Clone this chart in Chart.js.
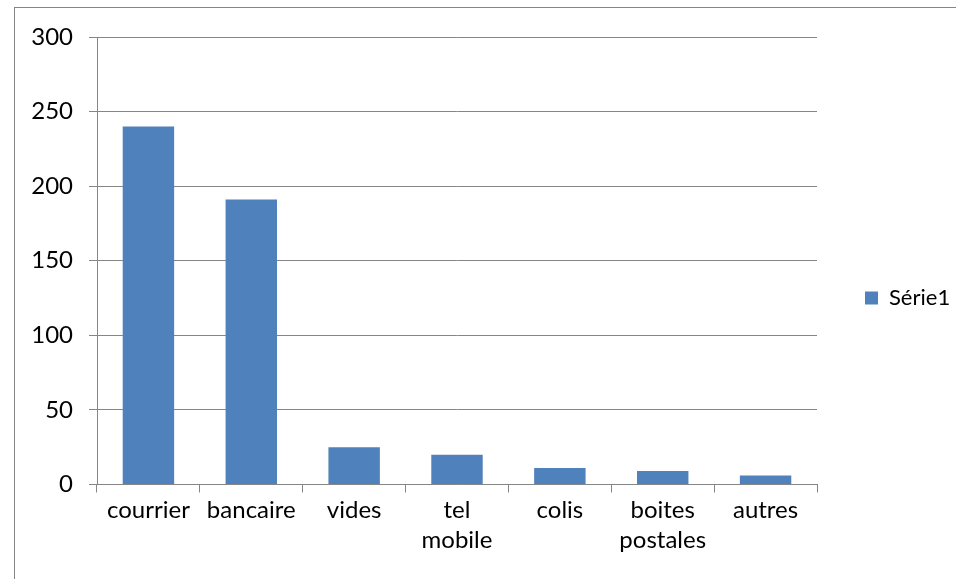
<!DOCTYPE html>
<html>
<head>
<meta charset="utf-8">
<script src="https://cdn.jsdelivr.net/npm/chart.js@4/dist/chart.umd.min.js"></script>
<style>
  html, body { margin: 0; padding: 0; background: #fff; }
  #wrap { width: 956px; height: 579px; }
</style>
</head>
<body>
<div id="wrap"><canvas id="myChart" width="956" height="579"></canvas></div>
<script>
// data
const categories = ['courrier', 'bancaire', 'vides', ['tel', 'mobile'], 'colis', ['boites', 'postales'], 'autres'];
const serie1 = [240, 191, 25, 20, 11, 9, 6];
const yTicks = [0, 50, 100, 150, 200, 250, 300];

const gray = '#868686';
const font = { family: 'Lato, "Open Sans", sans-serif', size: 24, lineHeight: 1.25 };

// outer frame round the whole chart + fixed legend width
const frame = {
  id: 'frame',
  afterInit(chart) {
    const lg = chart.legend;
    if (lg && !lg._wrapped) {
      const f = lg.fit;
      lg.fit = function () { f.call(this); this.width = 139; };
      lg._wrapped = true;
    }
  },
  beforeDraw(chart) {
    const c = chart.ctx;
    c.save();
    c.fillStyle = '#fff';
    c.fillRect(0, 0, chart.width, chart.height);
    c.strokeStyle = gray;
    c.lineWidth = 1;
    c.strokeRect(14.5, 7.5, 960, 600);
    c.restore();
  }
};

const config = {
  type: 'bar',
  data: {
    labels: categories,
    datasets: [{
      label: 'Série1',
      data: serie1,
      backgroundColor: '#4F81BD',
      borderWidth: 0,
      categoryPercentage: 1,
      barPercentage: 0.5
    }]
  },
  options: {
    responsive: false,
    animation: false,
    layout: { padding: { left: 20, top: 37, right: 0, bottom: 20 } },
    plugins: {
      tooltip: { enabled: false },
      legend: {
        position: 'right',
        labels: {
          color: '#000',
          font: { family: font.family, size: 22 },
          boxWidth: 13, boxHeight: 13, padding: 48
        }
      }
    },
    scales: {
      x: {
        offset: true,
        grid: { offset: true, drawOnChartArea: false, color: gray, tickLength: 8 },
        border: { color: gray, width: 1 },
        ticks: { color: '#000', font: font, maxRotation: 0, autoSkip: false, padding: 3 },
        afterFit(s) { s.height = 74.5; }
      },
      y: {
        min: 0,
        max: 300,
        afterBuildTicks(s) { s.ticks = yTicks.map(v => ({ value: v })); },
        grid: { color: gray, tickLength: 8 },
        border: { color: gray, width: 1 },
        ticks: { color: '#000', font: font, padding: 16 },
        afterFit(s) { s.width = 77; }
      }
    }
  },
  plugins: [frame]
};

let ctx = document.getElementById('myChart').getContext('2d');
let myChart = new Chart(ctx, config);
</script>
</body>
</html>
